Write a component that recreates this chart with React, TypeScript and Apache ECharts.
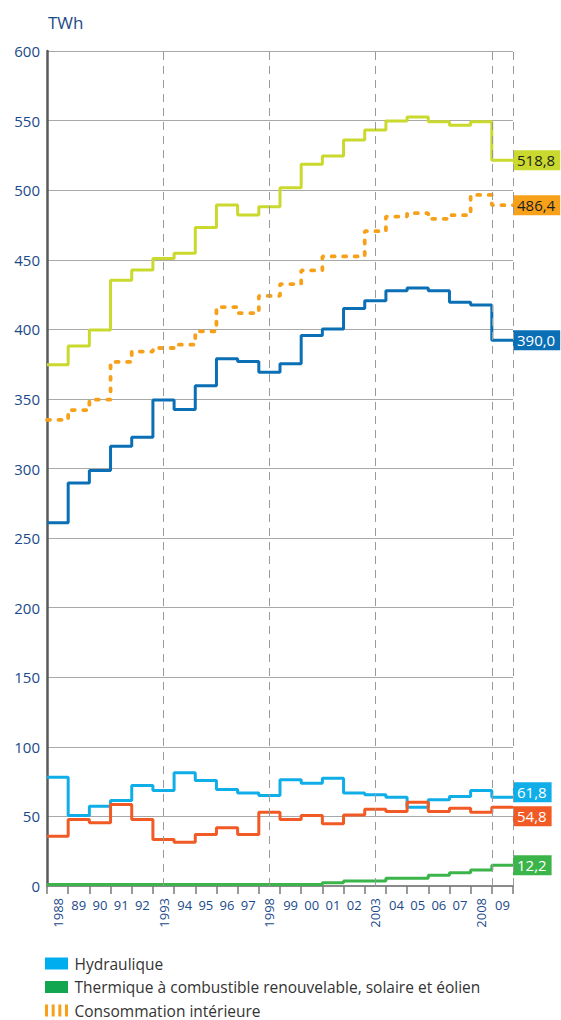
import React, { useEffect, useRef } from "react";
import * as echarts from "echarts";

// Category labels (one per year, 1988–2009)
const shortLabels = ["", "89", "90", "91", "92", "", "94", "95", "96", "97", "", "99", "00", "01", "02", "", "04", "05", "06", "07", "", "09"];
const rotatedLabels = ["1988", "", "", "", "", "1993", "", "", "", "", "1998", "", "", "", "", "2003", "", "", "", "", "2008", ""];

// Series values (TWh), 1988–2009
const production = [374.5, 388, 399.6, 435.3, 442.7, 450.9, 454.7, 473.1, 489.4, 482.2, 488, 501.8, 518.6, 524.6, 536, 543.3, 549.7, 552.6, 549.2, 546.6, 549.2, 521.5];
const consumption = [335, 342, 349.5, 376.6, 384, 386.6, 389, 398.6, 416, 411.7, 424, 432.5, 442.3, 452.4, 452.4, 470.5, 481, 483.5, 479.4, 482, 496.6, 489.2];
const nuclear = [261.1, 289.5, 298.6, 316, 322.5, 349.3, 342.4, 359.4, 378.8, 376.8, 369.2, 375.2, 395.6, 400.3, 415, 420.6, 427.7, 429.7, 427.7, 419.4, 417.5, 392.2];
const hydro = [78.1, 50.6, 57.3, 61.4, 72.2, 68.6, 81.3, 75.8, 69.3, 66.9, 65.0, 76.3, 73.8, 77.4, 66.9, 65.5, 63.8, 56.6, 61.9, 64.3, 68.6, 63.8];
const thermal = [35.8, 47.8, 45.4, 58.5, 47.8, 33.4, 31.5, 37.0, 41.8, 37.0, 53.0, 47.8, 50.6, 44.7, 51.1, 55.2, 53.5, 60.2, 53.5, 55.9, 53.0, 56.6];
const renewable = [1.1, 1.1, 1.1, 1.1, 1.1, 1.1, 1.1, 1.1, 1.1, 1.1, 1.1, 1.1, 1.1, 2.4, 3.6, 3.6, 5.6, 5.6, 7.7, 9.6, 11.5, 15.0];

// Printed 2009 values
const endValues = { production: 518.8, consumption: 486.4, nuclear: 390.0, hydro: 61.8, thermal: 54.8, renewable: 12.2 };

// Vertical dashed guides (in year-band units)
const guidePositions = [5.5, 10.5, 15.5, 21, 22];

const yTicks = { min: 0, max: 600, interval: 50 };

const legendNames = {
  hydro: "Hydraulique",
  renewable: "Thermique à combustible renouvelable, solaire et éolien",
  consumption: "Consommation intérieure",
};

const FONT = '"Open Sans", "Noto Sans", sans-serif';
const BLUE_TEXT = "#1b4a8a";

function stepData(values: number[]) {
  const pts: [number, number][] = values.map((v, i) => [i, v]);
  pts.push([values.length, values[values.length - 1]]);
  return pts;
}

function fmt(v: number) {
  return v.toFixed(1).replace(".", ",");
}

function lineSeries(
  name: string,
  values: number[],
  color: string,
  endValue: number,
  textColor: string,
  extra: any = {}
) {
  return {
    name,
    type: "line",
    step: "end",
    xAxisIndex: 0,
    yAxisIndex: 0,
    symbol: "none",
    z: 3,
    data: stepData(values),
    lineStyle: { color, width: 3, ...(extra.lineStyle || {}) },
    itemStyle: { color },
    endLabel: {
      show: true,
      formatter: () => fmt(endValue),
      distance: 0,
      backgroundColor: color,
      color: textColor,
      fontSize: 15,
      fontFamily: FONT,
      lineHeight: 17,
      padding: [2, 5, 1, 4],
      offset: extra.offset || [0, 0],
    },
    emphasis: { disabled: true },
  };
}

export default function App() {
  const ref = useRef<HTMLDivElement>(null);

  useEffect(() => {
    if (!ref.current) return;
    const chart = echarts.init(ref.current, undefined, { renderer: "svg" });

    const option: any = {
      animation: false,
      backgroundColor: "#ffffff",
      title: {
        text: "TWh",
        left: 43,
        top: 9,
        textStyle: { fontSize: 17, fontWeight: "normal", color: BLUE_TEXT, fontFamily: FONT },
      },
      grid: { left: 47, top: 51, width: 466, height: 835, containLabel: false },
      xAxis: [
        { type: "value", min: 0, max: shortLabels.length, show: false },
        {
          type: "category",
          data: shortLabels,
          boundaryGap: true,
          position: "bottom",
          axisLine: { show: true, onZero: false, lineStyle: { color: "#8a8a8a", width: 2 } },
          axisTick: { show: true, interval: 0, length: 8, lineStyle: { color: "#7a7a7a", width: 1.5 } },
          axisLabel: { interval: 0, fontSize: 13, color: BLUE_TEXT, fontFamily: FONT, margin: 12 },
          splitLine: { show: false },
        },
        {
          type: "category",
          data: rotatedLabels,
          boundaryGap: true,
          position: "bottom",
          axisLine: { show: false, onZero: false },
          axisTick: { show: false },
          axisLabel: { interval: 0, rotate: 90, fontSize: 13, color: BLUE_TEXT, fontFamily: FONT, margin: 12 },
          splitLine: { show: false },
        },
      ],
      yAxis: {
        type: "value",
        min: yTicks.min,
        max: yTicks.max,
        interval: yTicks.interval,
        axisLine: { show: true, lineStyle: { color: "#5a5a5a", width: 2.5 } },
        axisTick: { show: false },
        axisLabel: { fontSize: 15, color: BLUE_TEXT, fontFamily: FONT, margin: 7, padding: [5, 0, 0, 0] },
        splitLine: { show: true, lineStyle: { color: "#a8a8a8", width: 1 } },
      },
      legend: {
        orient: "vertical",
        left: 45,
        top: 955,
        height: 80,
        padding: 0,
        itemWidth: 23,
        itemHeight: 12,
        itemGap: 6.5,
        selectedMode: false,
        itemStyle: { borderWidth: 0 },
        textStyle: { fontSize: 15.5, lineHeight: 17, color: "#333333", fontFamily: FONT, padding: [0, 0, 0, 1.5] },
        data: [
          { name: legendNames.hydro, icon: "rect", itemStyle: { color: "#00aeef" } },
          { name: legendNames.renewable, icon: "rect", itemStyle: { color: "#13a650" } },
          {
            name: legendNames.consumption,
            icon: "path://M0,0h3v12h-3zM6.67,0h3v12h-3zM13.33,0h3v12h-3zM20,0h3v12h-3z",
            itemStyle: { color: "#f7a11a" },
          },
        ],
      },
      series: [
        {
          name: "guides",
          type: "line",
          xAxisIndex: 0,
          yAxisIndex: 0,
          data: [],
          z: 1,
          silent: true,
          markLine: {
            silent: true,
            symbol: "none",
            label: { show: false },
            lineStyle: { color: "#9a9a9a", width: 1, type: [8, 6] },
            emphasis: { disabled: true },
            data: guidePositions.map((x) => ({ xAxis: x })),
          },
        },
        lineSeries("Production totale", production, "#c9d92e", endValues.production, "#1e1e1e"),
        lineSeries(legendNames.consumption, consumption, "#f7a11a", endValues.consumption, "#1e1e1e", {
          lineStyle: { type: [3, 8.5], cap: "round", width: 3.8 },
        }),
        lineSeries("Nucléaire", nuclear, "#0b6fb6", endValues.nuclear, "#ffffff"),
        lineSeries(legendNames.hydro, hydro, "#10aee8", endValues.hydro, "#ffffff", { offset: [0, -5] }),
        lineSeries("Thermique classique", thermal, "#f15a24", endValues.thermal, "#ffffff", { offset: [0, 9] }),
        lineSeries(legendNames.renewable, renewable, "#3bb54a", endValues.renewable, "#ffffff"),
      ],
    };

    chart.setOption(option);
    return () => {
      chart.dispose();
    };
  }, []);

  return (
    <div
      ref={ref}
      style={{ position: "absolute", left: 0, top: 0, width: 561, height: 1020, background: "#fff" }}
    />
  );
}
